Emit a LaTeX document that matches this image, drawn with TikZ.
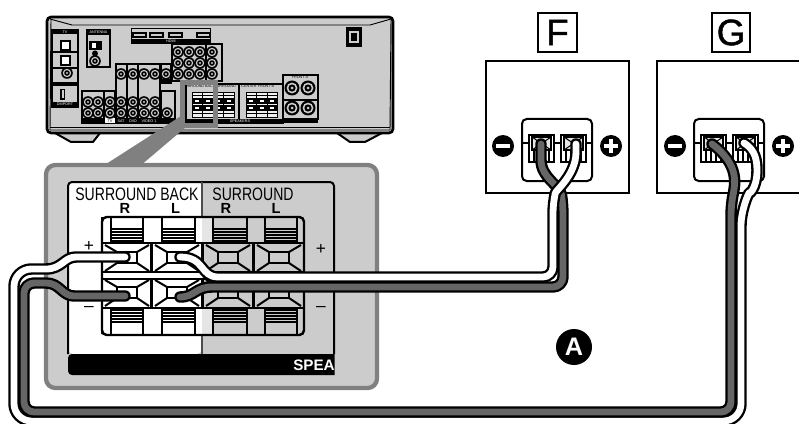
\documentclass[tikz,border=0pt]{standalone}
\usepackage{graphicx}
\usepackage{fontspec}
\setmainfont{Liberation Sans}
\newfontfamily\medfont[FakeBold=1.3]{Liberation Sans}
\newcommand\fs[1]{\fontsize{#1}{#1}\selectfont}
\definecolor{pan}{HTML}{CCCCCC}
\definecolor{hl}{HTML}{808080}
\definecolor{wdark}{HTML}{666666}
\tikzset{
 ln/.style={draw=black,line width=1.5pt},
 thin1/.style={draw=black,line width=.8pt},
 tiny1/.style={inner sep=0,font=\fs{2.8}},
 tinyw/.style={inner sep=0,font=\fs{2.8},text=white},
 lab/.style={inner sep=0,font=\fs{13.5}},
 labb/.style={inner sep=0,font=\bfseries\fs{11}},
 letterbox/.style={draw=black,line width=1.7pt,inner sep=0,minimum width=29pt,minimum height=29pt,font=\medfont\fs{27.5}},
 wirecase/.style={draw=black,line width=8.6pt,line cap=round,line join=round},
 wirecore/.style={line width=5.1pt,line cap=round,line join=round},
}
\newcommand\wire[2]{\draw[wirecase] #2; \draw[wirecore,draw=#1] #2;}
\newcommand\jack[3][5.8]{%
 \fill[black] (#2,#3) circle (#1);
 \fill[pan] (#2,#3) circle ({#1*.72});
 \fill[black] (#2,#3) circle ({#1*.48});
 \fill[pan] (#2,#3) circle ({#1*.2});}
% big terminal cell of the enlarged panel
\newcommand\pcell[3]{%
 \fill[#3] (#1,#2) rectangle ++(49,28);
 \draw[ln] (#1+15,#2+8) rectangle (#1+35,#2+19);
 \draw[ln] (#1+3,#2+1) -- (#1+15,#2+8) (#1+47,#2+1) -- (#1+35,#2+8)
           (#1+3,#2+27) -- (#1+15,#2+19) (#1+47,#2+27) -- (#1+35,#2+19);}
\newcommand\pclip[3]{% x, width, y-of-stripes-start
 \foreach \k in {0,3,6,9,12} {\draw[black,line width=.8pt] (#1,#3+\k) -- ++(#2,0);}}
% miniature speaker terminals on the receiver
\newcommand\minicol[2]{%
 \fill[pan!30] (#1,#2) rectangle ++(10.4,25);
 \fill[black] (#1,#2+6) rectangle ++(10.4,6);
 \fill[black] (#1,#2+13) rectangle ++(10.4,6);
 \fill[white] (#1+3,#2+8) rectangle ++(4.4,2);
 \fill[white] (#1+3,#2+15) rectangle ++(4.4,2);
 \draw[black,line width=.5pt] (#1,#2) rectangle ++(10.4,25);
 \fill[black] (#1,#2+3) rectangle ++(10.4,1.2);
 \fill[black] (#1,#2+21) rectangle ++(10.4,1.2);}
% speaker plate
\newcommand\plate[1]{%
 \draw[ln,fill=white,rounded corners=3.5pt] (#1+36,119) rectangle (#1+106,181);
 \draw[thin1] (#1+36,143) -- (#1+106,143);
 \foreach \d in {43,75} {
  \draw[ln,fill=white] (#1+\d,135) rectangle ++(25,27);
  \draw[ln,fill=pan!50] (#1+\d+3,137) rectangle ++(19,13);
  \draw[thin1] (#1+\d+3,137) -- ++(19,13) (#1+\d+22,137) -- ++(-19,13);
  \foreach \e in {5,10,15,20} {\draw[thin1] (#1+\d+\e,150) -- ++(0,12);}
 }
 \fill[black] (#1+17,146) circle (11);
 \fill[white] (#1+10,144) rectangle (#1+24,148);
 \fill[black] (#1+125,146) circle (11);
 \fill[white] (#1+118,144) rectangle (#1+132,148);
 \fill[white] (#1+123,139) rectangle (#1+127,153);}
\begin{document}
\begin{tikzpicture}[x=0.75pt,y=-0.75pt]
\useasboundingbox (0,0) rectangle (799,424);
\fill[white] (0,0) rectangle (799,424);
% ---------- receiver
\draw[ln,fill=pan] (55,133) -- (71,142) -- (93,142) -- (100,133) -- cycle;
\draw[ln,fill=pan] (337,133) -- (350,142) -- (365,142) -- (382,133) -- cycle;
\draw[draw=black,line width=2pt,fill=pan,rounded corners=3pt] (47,17) rectangle (393,133);
\draw[black,line width=.7pt] (51,20) -- (50,130) -- (390,130) -- (391,20);
\draw[black,line width=.7pt] (50,19) -- (72,25) -- (370,25) -- (391,19);
\draw[black,line width=.7pt] (50,127.5) -- (390,127.5);
% TV column
\draw[thin1,fill=pan] (52,30) rectangle (78,107);
\draw[thin1] (52,52) -- (78,52) (52,68) -- (78,68);
\fill[black] (52,30) rectangle (78,34);
\node[tinyw] (tvlab) at (65,32) {TV};
\draw[ln,fill=white] (61,41) rectangle (70,50);
\draw[ln,fill=white] (61,56) rectangle (70,65);
\jack{67}{73}
\fill[black] (52,82) rectangle (78,86);
\fill[black] (52,102) rectangle (78,107);
\node[tinyw] (dmlab) at (65,104.5) {DMPORT};
\fill[black] (60,89) rectangle (65,100);
\fill[pan] (61.5,90.5) rectangle (63.5,98.5);
% antenna
\draw[thin1,fill=pan] (87,30) rectangle (110,67);
\fill[black] (87,30) rectangle (110,35);
\node[tinyw] (antlab) at (98.5,32.5) {ANTENNA};
\fill[black] (89,41) rectangle (102,50);
\fill[white] (92,43) rectangle (96,48);
\fill[black] (95,53.5) circle (3);
\jack{95}{61}
% HDMI
\fill[black] (131,28) rectangle (211,44);
\fill[pan] (132,29) rectangle (210,39);
\foreach \a in {132.5,150,169,197} {\draw[ln,fill=pan] (\a,33) rectangle ++(13,4);}
\node[tinyw] (hdmilab) at (171,41.5) {HDMI};
% top jack matrix
\draw[ln,fill=pan] (172,44) rectangle (206,81);
\draw[ln,fill=pan] (206,44) rectangle (222,81);
\foreach \a in {178,189,200,212} \foreach \b in {52,63,74} {\jack{\a}{\b}}
% lower left groups
\foreach \a/\b/\y in {82/104/91,104.5/115/91,116/127/64,127.5/138/64,138.5/160/64,161/175/91} {
 \draw[thin1,fill=pan] (\a,\y) rectangle (\b,123);
 \fill[black] (\a,118.5) rectangle (\b,123);}
\fill[white] (105,118.5) rectangle (114.5,123);
\foreach \b in {102,113} {\jack{88}{\b}\jack{98}{\b}\jack{110}{\b}\jack{121}{\b}\jack{133}{\b}\jack{144}{\b}\jack{155}{\b}}
\foreach \a in {121,133,144,155} {\jack{\a}{74}}
\jack{167}{113}
\draw[thin1,fill=pan] (161,64) rectangle (171,83);
\fill[black] (161,79) rectangle (171,83);
\jack{166}{74}
\node[tinyw] (satlab) at (121,121) {SAT};
\node[tinyw] (dvdlab) at (133,121) {DVD};
\node[tinyw] (vidlab) at (149,121) {VIDEO 1};
\node[tiny1] (tv2lab) at (110,121) {TV};
% speakers section
\draw[thin1,fill=pan] (186,84) rectangle (283,123);
\draw[thin1] (239,84) -- (239,119);
\fill[black] (185,119) rectangle (318,123);
\node[tiny1] (ms1) at (199,86.5) {SURROUND BACK};
\node[tiny1] (ms2) at (225,86.5) {SURROUND};
\node[tiny1] (ms3) at (249,86.5) {CENTER};
\node[tiny1] (ms4) at (266,86.5) {FRONT B};
\node[tinyw] (ms5) at (240,121) {SPEAKERS};
\foreach \a in {192,202.5,213,223.5,246,256.5,267} {\minicol{\a}{92}}
\draw[ln,fill=pan] (283,75) rectangle (318,119);
\draw[thin1] (283,100) -- (318,100);
\node[tiny1] (ms6) at (300,77.5) {FRONT A};
\foreach \a in {292,308} \foreach \b in {88,108} {\jack[7.5]{\a}{\b}}
% power inlet
\fill[black] (346,27) rectangle (362,47);
\fill[pan] (349,31) rectangle (359,43);
\fill[black] (351,33) rectangle (357,41);
% ---------- callout
\fill[hl] (103,166) -- (140,166) -- (186,127) -- (181,116) -- cycle;
\draw[hl,line width=3.6pt] (182.5,82.5) rectangle (215.5,125.5);
% ---------- enlarged panel
\draw[draw=hl,line width=3.2pt,fill=pan,rounded corners=7pt] (46,165) rectangle (377,388);
\fill[white,rounded corners=4pt] (68,182) -- (202,182) -- (202,354) -- (68,354) -- cycle;
\draw[ln,rounded corners=3pt] (68,354) -- (68,182) -- (334,182) -- (334,354);
\draw[line width=1pt,black!70] (202,182) -- (202,354);
\begin{scope}
\clip (60,350) rectangle (334.5,380);
\fill[black,rounded corners=3pt] (68,354) rectangle (345,375);
\node[inner sep=0,anchor=west,font=\bfseries\fs{11.4},text=white] (spea) at (293,365) {SPEAKERS};
\end{scope}
\node[lab] (sbk) at (137,194) {\scalebox{.78}[1]{SURROUND BACK}};
\node[lab] (srd) at (253,194) {\scalebox{.78}[1]{SURROUND}};
\node[labb] (r1) at (125,208) {R};
\node[labb] (l1) at (175.5,208) {L};
\node[labb] (r2) at (226,208) {R};
\node[labb] (l2) at (276,208) {L};
\node[inner sep=0,font=\fs{13}] (p1) at (89,246) {+};
\node[inner sep=0,font=\fs{13}] (m1) at (89,309) {–};
\node[inner sep=0,font=\fs{13}] (p2) at (321,249) {+};
\node[inner sep=0,font=\fs{13}] (m2) at (321,309) {–};
% terminal block
\fill[white,rounded corners=3pt] (101,216) rectangle (202,335);
\fill[pan,rounded corners=3pt] (202,216) rectangle (304,335);
\fill[white] (195,218) rectangle (202,242);\fill[pan!50] (202,218) rectangle (212,242);
\fill[white] (195,309) rectangle (202,334);\fill[pan!50] (202,309) rectangle (212,334);
\foreach \a/\f in {102/white,152/white,203/pan,254/pan} {
 \pcell{\a}{244}{\f}
 \pcell{\a}{279}{\f}}
\foreach \a/\w in {112/31,163/32,213/34,265/32} {\pclip{\a}{\w}{229} \pclip{\a}{\w}{310}}
\foreach \a in {102,143,162,195,212.5,247,265,297} {
 \draw[ln] (\a,217) -- (\a,243); \draw[ln] (\a,308) -- (\a,334);}
\draw[ln] (111,217) -- (111,243) (111,308) -- (111,334);
\foreach \a in {151.5,202.5,253.5} {\draw[line width=1.6pt] (\a,243) -- (\a,272) (\a,279) -- (\a,308);}
\draw[ln] (102,243) -- (304,243) (102,272) -- (304,272) (102,279) -- (304,279) (102,308) -- (304,308);
\draw[draw=black,line width=1.8pt,rounded corners=3.5pt] (102,217) rectangle (304,335);
% ---------- speakers
\node[letterbox] (labF) at (557.5,32.5) {F};
\node[letterbox] (labG) at (731,32.5) {G};
\draw[ln] (486,61) rectangle (629,193);
\draw[ln] (799,61) -- (657,61) -- (657,193) -- (799,193);
\plate{486}
\plate{658}
% ---------- wires
\coordinate (srp) at (125,257);
\coordinate (srm) at (125,296);
\coordinate (slp) at (180,257);
\coordinate (slm) at (180,297);
\coordinate (fm) at (541,144);
\coordinate (fp) at (576,144);
\coordinate (gm) at (712,144);
\coordinate (gp) at (744,143);
\wire{white}{(srp) -- (76,257) .. controls (64,257) and (62,269) .. (46,269) [rounded corners=13pt] -- (14,269) -- (14,421) -- (741,421) -- (741,208) [sharp corners] .. controls (748,195) and (757,190) .. (757,170) .. controls (757,155) and (752,148) .. (gp)}
\wire{wdark}{(srm) -- (74,296) .. controls (62,296) and (60,283) .. (46,283) [rounded corners=7.5pt] -- (24,283) -- (24,412) -- (731,412) -- (731,205) [sharp corners] .. controls (735,185) and (740,165) .. (gm)}
\wire{wdark}{(slm) .. controls (195,297) and (195,287) .. (212,287) [rounded corners=7.5pt] -- (563,287) -- (563,205) [sharp corners] .. controls (560,185) and (541,178) .. (541,160) -- (fm)}
\wire{white}{(slp) .. controls (205,257) and (200,277) .. (218,277) [rounded corners=7.5pt] -- (553,277) -- (553,203) [sharp corners] .. controls (556,190) and (576,175) .. (576,152) -- (fp)}
% ---------- A
\fill[black] (574,347) circle (18);
\node[inner sep=0,font=\bfseries\fs{19},text=white] (labA) at (574,347) {A};
\end{tikzpicture}
\end{document}
